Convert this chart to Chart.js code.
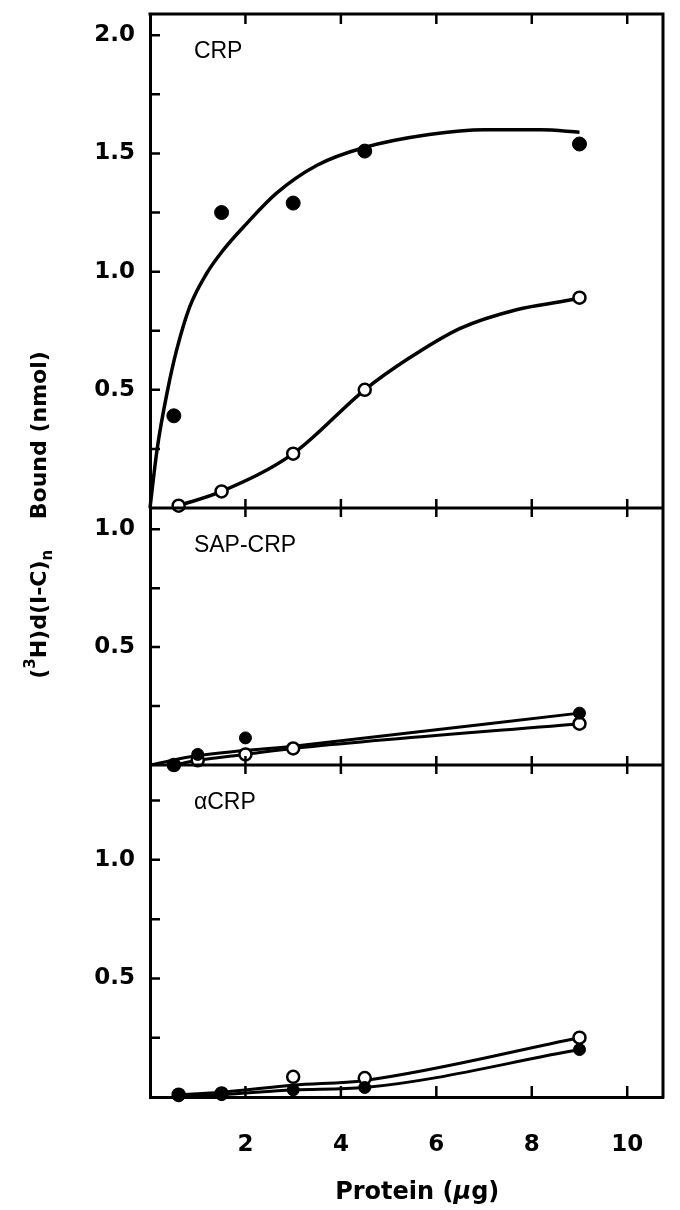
<!DOCTYPE html>
<html>
<head>
<meta charset="utf-8">
<script src="https://cdn.jsdelivr.net/npm/chart.js@4.4.1/dist/chart.umd.min.js"></script>
<style>
  html, body { margin: 0; padding: 0; background: #fff; }
  #chart { display: block; }
</style>
</head>
<body>
<canvas id="chart" width="680" height="1210"></canvas>
<script>
// x axis (protein, ug)
const xTicks = [2, 4, 6, 8, 10];

// CRP panel
const crpX = [0.5, 1.5, 3, 4.5, 9];
const crpFilled = [0.39, 1.25, 1.29, 1.51, 1.54];
const crpOpenX = [0.6, 1.5, 3, 4.5, 9];
const crpOpen = [0.01, 0.07, 0.23, 0.5, 0.89];
// hand drawn curves
const crpFilledFitX = [0, 0.15, 0.37, 0.56, 0.83, 1.18, 1.53, 2.01, 2.64, 3.5, 4.49, 5.85, 7.02, 8.19, 9];
const crpFilledFit = [0, 0.25, 0.5, 0.67, 0.85, 0.99, 1.09, 1.2, 1.33, 1.45, 1.525, 1.58, 1.6, 1.6, 1.59];
const crpOpenFitX = [0.6, 1.5, 3, 4.5, 5.4, 6.5, 7.7, 8.8, 9];
const crpOpenFit = [0.01, 0.07, 0.23, 0.5, 0.63, 0.76, 0.84, 0.88, 0.89];

// SAP-CRP panel
const sapX = [0.5, 1, 2, 9];
const sapFilled = [0.0, 0.045, 0.115, 0.22];
const sapOpenX = [0.5, 1, 2, 3, 9];
const sapOpen = [0.0, 0.02, 0.045, 0.07, 0.175];
const sapFitX = [0, 1, 3, 9];
const sapFit = [0, 0.04, 0.08, 0.22];

// alpha CRP panel
const acrpX = [0.6, 1.5, 3, 4.5, 9];
const acrpOpen = [0.01, 0.015, 0.085, 0.08, 0.25];
const acrpFilled = [0.005, 0.01, 0.03, 0.04, 0.2];
const acrpFit = [0.01, 0.02, 0.05, 0.07, 0.25];

// y ticks per panel
const yLabelsTop = [0.5, 1.0, 1.5, 2.0];
const yMinorTop = [0.25, 0.5, 0.75, 1.0, 1.25, 1.5, 1.75, 2.0];
const yLabelsMid = [0.5, 1.0];
const yMinorMid = [0.25, 0.5, 0.75, 1.0];
const yLabelsLow = [0.5, 1.0];
const yMinorLow = [0.25, 0.5, 0.75, 1.0, 1.25];

const panelNames = ['CRP', 'SAP-CRP', 'αCRP'];

const pts = (xs, ys) => xs.map((x, i) => ({ x: x, y: ys[i] }));
const tickFont = { family: '"DejaVu Sans"', size: 23, weight: 'bold' };

function dots(xs, ys, axis, open, r) {
  return {
    data: pts(xs, ys), yAxisID: axis, showLine: false, order: 0, clip: false,
    pointRadius: r, pointBorderWidth: open ? 2.5 : 1,
    pointBackgroundColor: open ? '#fff' : '#000', pointBorderColor: '#000'
  };
}
function curve(xs, ys, axis, w) {
  return {
    data: pts(xs, ys), yAxisID: axis, showLine: true, order: 1, clip: false,
    pointRadius: 0, borderColor: '#000', borderWidth: w,
    cubicInterpolationMode: 'monotone'
  };
}
function noPad(s) {
  s.paddingTop = 0; s.paddingBottom = 0; s.paddingLeft = 0; s.paddingRight = 0;
}
function yAxis(max, weight, labels) {
  return {
    type: 'linear', position: 'left', stack: 'panels', stackWeight: weight,
    min: 0, max: max,
    afterBuildTicks: s => { s.ticks = labels.map(v => ({ value: v })); },
    afterFit: s => { s.width = 150; noPad(s); },
    grid: { display: false, drawTicks: false },
    border: { display: true, color: '#000', width: 3 },
    ticks: { color: '#000', padding: 15, font: tickFont, callback: v => v.toFixed(1) }
  };
}

const panels = [
  { id: 'yA', minor: yMinorTop },
  { id: 'yB', minor: yMinorMid },
  { id: 'yC', minor: yMinorLow }
];

// frame, inward ticks, panel names and axis titles
const decor = {
  id: 'decor',
  afterDraw(chart) {
    const { ctx, chartArea: a, scales } = chart;
    const xs = scales.x;
    ctx.save();
    ctx.strokeStyle = '#000';
    ctx.lineWidth = 3;
    ctx.beginPath();
    ctx.moveTo(a.left - 1.5, a.top); ctx.lineTo(a.right + 1.5, a.top);
    ctx.moveTo(a.right, a.top); ctx.lineTo(a.right, a.bottom + 1.5);
    panels.forEach((p, i) => {
      if (i > 0) { const s = scales[p.id]; ctx.moveTo(a.left, s.top); ctx.lineTo(a.right, s.top); }
    });
    ctx.stroke();

    ctx.lineWidth = 2.5;
    ctx.beginPath();
    xTicks.forEach(v => {
      const px = xs.getPixelForValue(v);
      ctx.moveTo(px, a.top); ctx.lineTo(px, a.top + 10);
      panels.forEach((p, i) => {
        if (i > 0) { const s = scales[p.id]; ctx.moveTo(px, s.top - 9); ctx.lineTo(px, s.top + 9); }
      });
      ctx.moveTo(px, a.bottom); ctx.lineTo(px, a.bottom - 11);
    });
    panels.forEach(p => {
      const s = scales[p.id];
      p.minor.forEach(v => {
        const py = s.getPixelForValue(v);
        ctx.moveTo(a.left, py); ctx.lineTo(a.left + 10, py);
      });
    });
    ctx.stroke();

    ctx.fillStyle = '#000';
    ctx.font = '23px "Liberation Sans"';
    ctx.textAlign = 'left';
    ctx.textBaseline = 'middle';
    panels.forEach((p, i) => {
      ctx.fillText(panelNames[i], xs.getPixelForValue(0.92), scales[p.id].top + 38);
    });

    // x title
    const bold = '"DejaVu Sans"';
    const xParts = [
      { t: 'Protein (', f: 'bold 24px ' + bold },
      { t: 'μ', f: 'italic bold 24px ' + bold },
      { t: 'g)', f: 'bold 24px ' + bold }
    ];
    let tw = 0;
    xParts.forEach(p => { ctx.font = p.f; p.w = ctx.measureText(p.t).width; tw += p.w; });
    let cx = xs.getPixelForValue(5.6) - tw / 2;
    xParts.forEach(p => { ctx.font = p.f; ctx.fillText(p.t, cx, 1193); cx += p.w; });

    // y title, rotated
    const yParts = [
      { t: '(', f: 'bold 22px ' + bold, dy: 0 },
      { t: '3', f: 'bold 15px ' + bold, dy: -9 },
      { t: 'H)d(I-C)', f: 'bold 22px ' + bold, dy: 0 },
      { t: 'n', f: 'bold 15px ' + bold, dy: 8 },
      { t: '    Bound (nmol)', f: 'bold 22px ' + bold, dy: 0 }
    ];
    tw = 0;
    yParts.forEach(p => { ctx.font = p.f; p.w = ctx.measureText(p.t).width; tw += p.w; });
    ctx.translate(40, 515);
    ctx.rotate(-Math.PI / 2);
    cx = -tw / 2;
    yParts.forEach(p => { ctx.font = p.f; ctx.fillText(p.t, cx, p.dy); cx += p.w; });
    ctx.restore();
  }
};

new Chart(document.getElementById('chart'), {
  type: 'scatter',
  data: {
    datasets: [
      dots(crpX, crpFilled, 'yA', false, 7),
      dots(crpOpenX, crpOpen, 'yA', true, 6),
      curve(crpFilledFitX, crpFilledFit, 'yA', 3.5),
      curve(crpOpenFitX, crpOpenFit, 'yA', 3.5),
      dots(sapX, sapFilled, 'yB', false, 6),
      dots(sapOpenX, sapOpen, 'yB', true, 6),
      curve(sapFitX, sapFit, 'yB', 3),
      curve(sapOpenX, sapOpen, 'yB', 3),
      dots(acrpX, acrpFilled, 'yC', false, 6),
      dots(acrpX, acrpOpen, 'yC', true, 6),
      curve(acrpX, acrpFit, 'yC', 3),
      curve(acrpX, acrpFilled, 'yC', 3)
    ]
  },
  options: {
    responsive: false,
    animation: false,
    layout: { padding: { top: 14, right: 17, bottom: 0, left: 0 } },
    plugins: { legend: { display: false }, tooltip: { enabled: false } },
    scales: {
      x: {
        type: 'linear', min: 0, max: 10.75,
        afterBuildTicks: s => { s.ticks = xTicks.map(v => ({ value: v })); },
        afterFit: s => { s.height = 113; noPad(s); },
        grid: { display: false, drawTicks: false },
        border: { display: true, color: '#000', width: 3 },
        ticks: { color: '#000', padding: 34, font: tickFont, maxRotation: 0, autoSkip: false }
      },
      yA: Object.assign(yAxis(2.09, 494, yLabelsTop), { weight: 3 }),
      yB: Object.assign(yAxis(1.09, 257, yLabelsMid), { weight: 2 }),
      yC: Object.assign(yAxis(1.40, 332, yLabelsLow), { weight: 1 })
    }
  },
  plugins: [decor]
});
</script>
</body>
</html>
